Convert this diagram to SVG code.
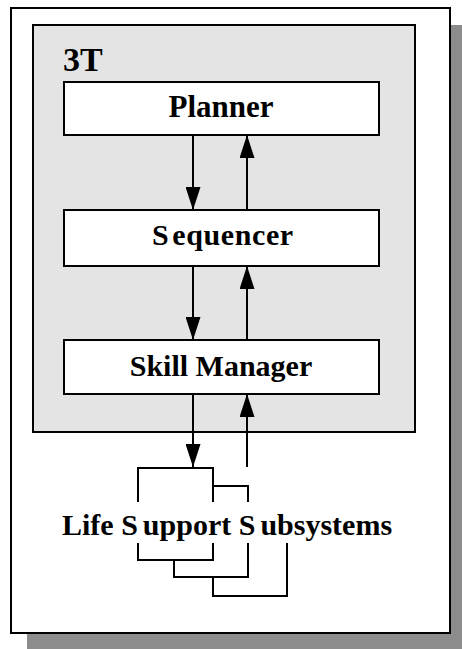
<svg xmlns="http://www.w3.org/2000/svg" width="462" height="649" viewBox="0 0 462 649">
<style>
.box{fill:#fff;stroke:#000;stroke-width:2}
.lbl{font-family:"Liberation Serif","Times New Roman",serif;font-weight:bold;font-size:30px;fill:#000}
.conn{stroke:#000;stroke-width:2;fill:none}
.ln{stroke:#000;stroke-width:2;fill:none}
</style>
<defs>
<marker id="ah" markerUnits="userSpaceOnUse" markerWidth="23" markerHeight="15" refX="23" refY="7.5" orient="auto">
<path d="M0,0 L23,7.5 L0,15 z" fill="#000"/>
</marker>
</defs>
<g id="frame">
<rect x="27" y="25" width="435" height="624" fill="#8c8c8c"/>
<rect x="11" y="8" width="439" height="625" fill="#fff" stroke="#000" stroke-width="2"/>
</g>
<g id="threeT">
<rect x="33" y="25" width="382" height="407" fill="#e4e4e4" stroke="#000" stroke-width="2"/>
<text x="63" y="71" class="lbl" style="font-size:34px">3T</text>
</g>
<g id="planner">
<rect class="box" x="64" y="82" width="315" height="53"/>
<text class="lbl" x="221" y="117" text-anchor="middle" style="font-size:31px">Planner</text>
</g>
<g id="sequencer">
<rect class="box" x="64" y="210" width="315" height="56"/>
<text class="lbl" x="152" y="245" style="letter-spacing:0.6px">S<tspan dx="3">equencer</tspan></text>
</g>
<g id="skillmanager">
<rect class="box" x="64" y="340" width="315" height="54"/>
<text class="lbl" x="221" y="376" text-anchor="middle">Skill Manager</text>
</g>
<g id="lifesupport">
<path class="ln" d="M138,502 V468 H213 V502 M138,543 V560 H213 V543"/>
<path class="ln" d="M213,486 H248 V502 M248,543 V577 H174 V560"/>
<path class="ln" d="M287,543 V596 H213 V577"/>
<text class="lbl" x="62" y="535">Life S<tspan dx="5">upport S</tspan><tspan dx="5">ubsystems</tspan></text>
</g>
<g id="connectors">
<line class="conn" x1="193" y1="135" x2="193" y2="210" marker-end="url(#ah)"/>
<line class="conn" x1="247" y1="210" x2="247" y2="135" marker-end="url(#ah)"/>
<line class="conn" x1="193" y1="266" x2="193" y2="340" marker-end="url(#ah)"/>
<line class="conn" x1="247" y1="340" x2="247" y2="266" marker-end="url(#ah)"/>
<line class="conn" x1="193" y1="394" x2="193" y2="467" marker-end="url(#ah)"/>
<line class="conn" x1="247" y1="467" x2="247" y2="394" marker-end="url(#ah)"/>
</g>
</svg>
